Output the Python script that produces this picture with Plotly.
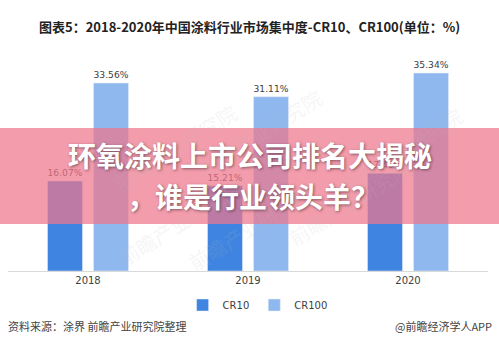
import plotly.graph_objects as go

years = ["2018", "2019", "2020"]
cr10 = [16.07, 15.21, 17.46]
cr100 = [33.56, 31.11, 35.34]
series_names = ["CR10", "CR100"]
title_text = "图表5：2018-2020年中国涂料行业市场集中度-CR10、CR100(单位：%)"
source_text = "资料来源：涂界 前瞻产业研究院整理"
brand_text = "@前瞻经济学人APP"
overlay_lines = ["环氧涂料上市公司排名大揭秘", "，谁是行业领头羊？"]
watermark_text = "前瞻产业研究院"

CJK = "Noto Sans CJK SC"
W, H = 499, 353
ML, MR, MT, MB = 8, 11, 47, 82
PH = H - MT - MB

fig = go.Figure()
fig.add_trace(go.Bar(
    x=years, y=cr10, name=series_names[0], marker_color="#3F84E0",
    text=[f"{v:.2f}%" for v in cr10], textposition="outside", cliponaxis=False,
    textfont=dict(size=10, color="#404040", family="DejaVu Sans"),
))
fig.add_trace(go.Bar(
    x=years, y=cr100, name=series_names[1], marker_color="#8FB8EE",
    text=[f"{v:.2f}%" for v in cr100], textposition="outside", cliponaxis=False,
    textfont=dict(size=10, color="#404040", family="DejaVu Sans"),
))

def py(pix):
    return (H - MB - pix) / PH

def px(pix):
    return (pix - ML) / (W - ML - MR)

annotations = []
# watermarks
for (xx, yy) in [(105, 95), (330, 80), (110, 275), (250, 280), (420, 255), (470, 150)]:
    annotations.append(dict(x=px(xx), y=py(yy), xref="paper", yref="paper", text=watermark_text,
                            showarrow=False, textangle=-32,
                            font=dict(size=20, color="rgba(190,190,190,0.15)", family=CJK)))
annotations += [
    dict(x=px(249), y=py(15), xref="paper", yref="paper", text=title_text, showarrow=False,
         font=dict(size=13, color="#222222", family=CJK, weight="bold")),
    dict(x=px(6), y=py(336), xref="paper", yref="paper", text=source_text, showarrow=False,
         xanchor="left", font=dict(size=11, color="#444444", family=CJK)),
    dict(x=px(494), y=py(336), xref="paper", yref="paper", text=brand_text, showarrow=False,
         xanchor="right", font=dict(size=11, color="#444444", family=CJK)),
    dict(x=px(250), y=py(155), xref="paper", yref="paper", text=overlay_lines[0], showarrow=False,
         font=dict(size=28, color="white", family=CJK, weight="bold",
                   shadow="1px 1px 3px rgba(0,0,0,0.45)")),
    dict(x=px(253), y=py(196), xref="paper", yref="paper", text=overlay_lines[1], showarrow=False,
         font=dict(size=28, color="white", family=CJK, weight="bold",
                   shadow="1px 1px 3px rgba(0,0,0,0.45)")),
]

fig.update_layout(
    width=W, height=H,
    margin=dict(l=ML, r=MR, t=MT, b=MB),
    paper_bgcolor="white", plot_bgcolor="white",
    barmode="group", bargap=0.425, bargroupgap=0.24,
    xaxis=dict(showline=True, linecolor="#D9D9D9", linewidth=1, ticks="",
               tickfont=dict(size=10, color="#404040", family="DejaVu Sans"), fixedrange=True),
    yaxis=dict(range=[0, 40], visible=False, showgrid=False, fixedrange=True),
    legend=dict(orientation="h", x=0.52, xanchor="center", y=py(305), yanchor="middle",
                font=dict(size=10, color="#404040", family="DejaVu Sans"),
                itemwidth=30, tracegroupgap=0, bgcolor="rgba(0,0,0,0)"),
    shapes=[dict(type="rect", xref="paper", yref="paper", x0=-0.05, x1=1.05,
                 y0=py(224), y1=py(128), fillcolor="rgba(238,118,140,0.72)",
                 line=dict(width=0), layer="above")],
    annotations=annotations,
    showlegend=True,
)

fig.write_html("out.html")
